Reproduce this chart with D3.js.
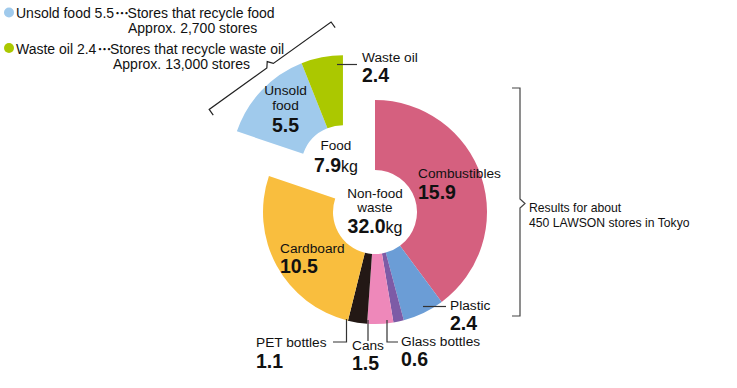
<!DOCTYPE html>
<html>
<head>
<meta charset="utf-8">
<script src="https://cdn.jsdelivr.net/npm/d3@7"></script>
<style>
	body { margin: 0; background: #fff; }
	svg { display: block; }
	text { font-family: 'Liberation Sans', Arial, sans-serif; fill: #111; }
	.num { font-weight: bold; font-size: 19.5px; }
	.lab { font-size: 13.7px; }
	.dots { font-family: 'Noto Sans CJK JP', sans-serif; letter-spacing: -2.5px; }
	.lead { stroke: #333; stroke-width: 1.2; fill: none; }
</style>
</head>
<body>
<script>
// values (kg)
const foodCats = ['Unsold food', 'Waste oil']
const foodVals = [5.5, 2.4]
const nonFoodCats = ['Combustibles', 'Plastic', 'Glass bottles', 'Cans', 'PET bottles', 'Cardboard']
const nonFoodVals = [15.9, 2.4, 0.6, 1.5, 1.1, 10.5]
const foodTotal = '7.9'
const nonFoodTotal = '32.0'
const legendRows = [
	['Unsold food 5.5', 'Stores that recycle food', 'Approx. 2,700 stores'],
	['Waste oil 2.4', 'Stores that recycle waste oil', 'Approx. 13,000 stores']
]
const noteLines = ['Results for about', '450 LAWSON stores in Tokyo']

const colors = {
	'Unsold food': '#a0caec',
	'Waste oil': '#abc800',
	'Combustibles': '#d5607f',
	'Plastic': '#6b9dd6',
	'Glass bottles': '#7d5ba6',
	'Cans': '#ee88ba',
	'PET bottles': '#231815',
	'Cardboard': '#f9be3e'
}

const W = 737, H = 388
const cx = 375, cy = 212, rOut = 112, rIn = 42, explode = 55

const svg = d3.select('body').append('svg')
	.attr('width', W).attr('height', H)

const sumFood = d3.sum(foodVals), sumNon = d3.sum(nonFoodVals)
const ang = d3.scaleLinear().domain([0, sumFood + sumNon]).range([0, 2 * Math.PI])
const arc = d3.arc().innerRadius(rIn).outerRadius(rOut)

// non-food ring, clockwise from 12 o'clock
const nonPie = d3.pie().sort(null).startAngle(0).endAngle(ang(sumNon)).value(d => d.v)
svg.append('g').attr('transform', `translate(${[cx, cy]})`)
	.selectAll('path')
	.data(nonPie(nonFoodVals.map((v, i) => ({ cat: nonFoodCats[i], v }))))
	.join('path')
	.attr('d', arc)
	.attr('fill', d => colors[d.data.cat])

// food slice, pulled out along its bisector
const foodPie = d3.pie().sort(null).startAngle(-ang(sumFood)).endAngle(0).value(d => d.v)
const mid = -ang(sumFood) / 2
const fx = cx + explode * Math.sin(mid), fy = cy - explode * Math.cos(mid)
svg.append('g').attr('transform', `translate(${[fx, fy]})`)
	.selectAll('path')
	.data(foodPie(foodVals.map((v, i) => ({ cat: foodCats[i], v }))))
	.join('path')
	.attr('d', arc)
	.attr('fill', d => colors[d.data.cat])

// label helper: name lines (normal) in one text, value (bold) below
const label = (x, y, name, val, anchor, gap) => {
	const g = svg.append('g')
	const names = [].concat(name)
	const t = g.append('text').attr('class', 'lab')
		.attr('x', x).attr('y', y).attr('text-anchor', anchor || 'start')
	names.forEach((n, i) => t.append('tspan').attr('x', x).attr('dy', i ? 15 : 0).text(n))
	g.append('text').attr('class', 'num')
		.attr('x', x).attr('y', y + (names.length - 1) * 15 + (gap || 20))
		.attr('text-anchor', anchor || 'start').text(val)
}

const fv = c => foodVals[foodCats.indexOf(c)].toFixed(1)
const nv = c => nonFoodVals[nonFoodCats.indexOf(c)].toFixed(1)

label(285.5, 95, ['Unsold', 'food'], fv('Unsold food'), 'middle', 21.5)
label(362, 62, 'Waste oil', fv('Waste oil'))
label(418, 178, 'Combustibles', nv('Combustibles'), 'start', 21)
label(280, 253, 'Cardboard', nv('Cardboard'), 'start', 20)
label(450, 310, 'Plastic', nv('Plastic'), 'start', 19.5)
label(256, 347, 'PET bottles', nv('PET bottles'), 'start', 21)
label(352, 350, 'Cans', nv('Cans'), 'start', 20)
label(401, 345.5, 'Glass bottles', nv('Glass bottles'), 'start', 20.5)

// totals
const total = (x, y, lines, val) => {
	const h = svg.append('text').attr('class', 'lab').style('font-size', '13.5px')
		.attr('x', x).attr('y', y).attr('text-anchor', 'middle')
	lines.forEach((l, i) => h.append('tspan').attr('x', x).attr('dy', i ? 14 : 0).text(l))
	const t = svg.append('text').attr('x', x).attr('y', y + (lines.length - 1) * 14 + 21.5)
		.attr('text-anchor', 'middle')
	t.append('tspan').attr('class', 'num').text(val)
	t.append('tspan').attr('class', 'lab').style('font-size', '16px').text('kg')
}
total(336, 150, ['Food'], foodTotal)
total(375, 197.5, ['Non-food', 'waste'], nonFoodTotal)

// leader lines
const leaders = [
	[[337, 64.5], [357, 64.5]],
	[[423, 306.5], [446, 306.5]],
	[[346.5, 319], [346.5, 342], [333, 342]],
	[[368, 320], [368, 341]],
	[[387, 320], [387, 342], [398, 342]]
]
svg.selectAll('path.lead').data(leaders).join('path')
	.attr('class', 'lead')
	.attr('d', d3.line())

// legend
legendRows.forEach((r, i) => {
	const y = 18 + i * 35.5
	svg.append('circle').attr('cx', 9).attr('cy', y - 5.5).attr('r', 5)
		.attr('fill', colors[foodCats[i]])
	const t = svg.append('text').attr('class', 'lab').style('font-size', '14px')
		.attr('x', 16).attr('y', y)
	t.append('tspan').text(r[0])
	t.append('tspan').attr('class', 'dots').text('･･･')
	t.append('tspan').text(r[1])
	svg.append('text').attr('class', 'lab').style('font-size', '14px')
		.attr('x', i ? 113 : 128).attr('y', y + 15).text(r[2])
})

// bracket over the food slice, perpendicular to its bisector
const ux = Math.sin(mid), uy = -Math.cos(mid)          // outward
const px = -uy, py = ux                               // along bracket
const bc = [fx + 125 * ux, fy + 125 * uy]
const half = 75, tick = 7
const pt = (s, o) => [bc[0] + s * px + o * ux, bc[1] + s * py + o * uy]
svg.append('path').attr('class', 'lead').style('stroke', '#222')
	.attr('d', d3.line()([pt(-half, -tick), pt(-half, 0), pt(-4, 0), pt(0, 5), pt(4, 0), pt(half, 0), pt(half, -tick)]))

// bracket on the right
svg.append('path').attr('class', 'lead').style('stroke', '#444')
	.attr('d', d3.line()([[512, 88], [520, 88], [520, 199], [525, 203.5], [520, 208], [520, 316], [512, 316]]))
noteLines.forEach((l, i) => svg.append('text')
	.attr('x', 529).attr('y', 212 + i * 15).style('font-size', '12.2px').text(l))
</script>
</body>
</html>
